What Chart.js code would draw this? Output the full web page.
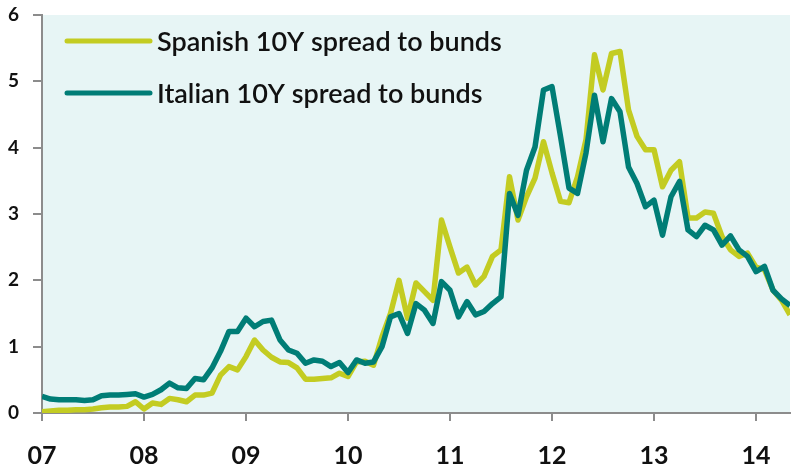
<!DOCTYPE html>
<html>
<head>
  <title>Spanish and Italian 10Y spreads to bunds</title>
  <style>
    body {
      margin: 0;
      padding: 0;
      background-color: white;
    }

    #chart-container {
      width: 800px;
      height: 468px;
    }
  </style>
</head>
<body>
  <div id="chart-container">
    <canvas id="spread-chart"></canvas>
  </div>

  <script src="https://cdn.jsdelivr.net/npm/chart.js"></script>
  <script>
    // one value per month, Jan 2007 .. May 2014
    const yearLabels = ["07", "08", "09", "10", "11", "12", "13", "14"];

    const spanish = [
      0.02, 0.03, 0.04, 0.04, 0.05, 0.05, 0.06, 0.08, 0.09, 0.09, 0.10, 0.17,
      0.06, 0.15, 0.13, 0.22, 0.20, 0.17, 0.27, 0.27, 0.30, 0.57, 0.70, 0.65,
      0.85, 1.10, 0.95, 0.84, 0.77, 0.76, 0.68, 0.51, 0.51, 0.52, 0.53, 0.60,
      0.55, 0.77, 0.78, 0.72, 1.15, 1.50, 2.00, 1.43, 1.96, 1.83, 1.70, 2.91,
      2.50, 2.11, 2.20, 1.93, 2.06, 2.36, 2.46, 3.56, 2.91, 3.26, 3.54, 4.09,
      3.62, 3.19, 3.17, 3.56, 4.12, 5.40, 4.87, 5.42, 5.45, 4.57, 4.17, 3.97,
      3.97, 3.41, 3.66, 3.79, 2.94, 2.94, 3.03, 3.01, 2.66, 2.46, 2.36, 2.41,
      2.20, 2.16, 1.85, 1.70, 1.48
    ];

    const italian = [
      0.25, 0.21, 0.20, 0.20, 0.20, 0.19, 0.20, 0.26, 0.27, 0.27, 0.28, 0.29,
      0.24, 0.28, 0.35, 0.45, 0.38, 0.37, 0.52, 0.50, 0.68, 0.93, 1.23, 1.23,
      1.43, 1.30, 1.38, 1.40, 1.10, 0.95, 0.90, 0.75, 0.80, 0.78, 0.70, 0.76,
      0.61, 0.80, 0.75, 0.77, 1.00, 1.45, 1.50, 1.20, 1.65, 1.55, 1.35, 1.98,
      1.85, 1.45, 1.68, 1.48, 1.53, 1.65, 1.75, 3.31, 2.98, 3.66, 4.01, 4.87,
      4.92, 4.17, 3.39, 3.31, 3.92, 4.79, 4.09, 4.74, 4.54, 3.71, 3.46, 3.11,
      3.21, 2.68, 3.26, 3.49, 2.76, 2.66, 2.83, 2.76, 2.53, 2.67, 2.46, 2.36,
      2.13, 2.21, 1.85, 1.72, 1.62
    ];

    const seriesNames = ["Spanish 10Y spread to bunds", "Italian 10Y spread to bunds"];
    const seriesColors = ["#c3cc22", "#007d76"];

    const axisColor = "#8c8c8c";

    function toPoints(values) {
      return values.map((v, i) => ({ x: i, y: v }));
    }

    // light cyan plot background
    const plotBackground = {
      id: "plotBackground",
      beforeDraw(chart) {
        const { ctx, chartArea } = chart;
        ctx.save();
        ctx.fillStyle = "#e7f5f5";
        ctx.fillRect(chartArea.left, chartArea.top, chartArea.right - chartArea.left, chartArea.bottom - chartArea.top);
        ctx.restore();
      }
    };

    // legend drawn inside the plot, top left
    const insideLegend = {
      id: "insideLegend",
      afterDraw(chart) {
        const { ctx, chartArea } = chart;
        ctx.save();
        chart.data.datasets.forEach((ds, i) => {
          const y = chartArea.top + 26 + i * 52;
          ctx.strokeStyle = ds.borderColor;
          ctx.lineWidth = 5;
          ctx.lineCap = "round";
          ctx.beginPath();
          ctx.moveTo(chartArea.left + 25, y);
          ctx.lineTo(chartArea.left + 108, y);
          ctx.stroke();
          ctx.fillStyle = "#111";
          ctx.font = "600 27px Lato";
          ctx.textBaseline = "middle";
          ctx.fillText(ds.label, chartArea.left + 115, y + 1);
        });
        ctx.restore();
      }
    };

    new Chart(document.getElementById("spread-chart"), {
      type: "line",
      data: {
        datasets: [
          {
            label: seriesNames[0],
            data: toPoints(spanish),
            borderColor: seriesColors[0],
            borderWidth: 5.5,
            pointRadius: 0,
            borderJoinStyle: "round",
            tension: 0,
            order: 2
          },
          {
            label: seriesNames[1],
            data: toPoints(italian),
            borderColor: seriesColors[1],
            borderWidth: 5.5,
            pointRadius: 0,
            borderJoinStyle: "round",
            tension: 0,
            order: 1
          }
        ]
      },
      options: {
        responsive: true,
        maintainAspectRatio: false,
        animation: false,
        layout: {
          padding: { top: 15, right: 10, left: 0, bottom: 0 }
        },
        plugins: {
          legend: { display: false },
          tooltip: { enabled: false }
        },
        scales: {
          x: {
            type: "linear",
            min: 0,
            max: 88,
            afterFit(scale) {
              scale.height = 55;
              scale.paddingLeft = 0;
              scale.paddingRight = 0;
            },
            afterBuildTicks(scale) {
              scale.ticks = yearLabels.map((_, i) => ({ value: i * 12 }));
            },
            ticks: {
              padding: 20,
              color: "#111",
              font: { family: "Lato", size: 25, weight: "bold" },
              callback: (value) => yearLabels[value / 12]
            },
            grid: {
              drawOnChartArea: false,
              drawTicks: true,
              tickLength: 8,
              color: axisColor,
              lineWidth: 2
            },
            border: { display: true, color: axisColor, width: 2 }
          },
          y: {
            min: 0,
            max: 6,
            afterFit(scale) {
              scale.width = 42;
              scale.paddingTop = 0;
              scale.paddingBottom = 0;
            },
            ticks: {
              stepSize: 1,
              padding: 14,
              color: "#111",
              font: { family: "Lato", size: 19, weight: "bold" }
            },
            grid: {
              drawOnChartArea: false,
              drawTicks: true,
              tickLength: 9,
              color: axisColor,
              lineWidth: 2
            },
            border: { display: true, color: axisColor, width: 2 }
          }
        }
      },
      plugins: [plotBackground, insideLegend]
    });
  </script>
</body>
</html>
